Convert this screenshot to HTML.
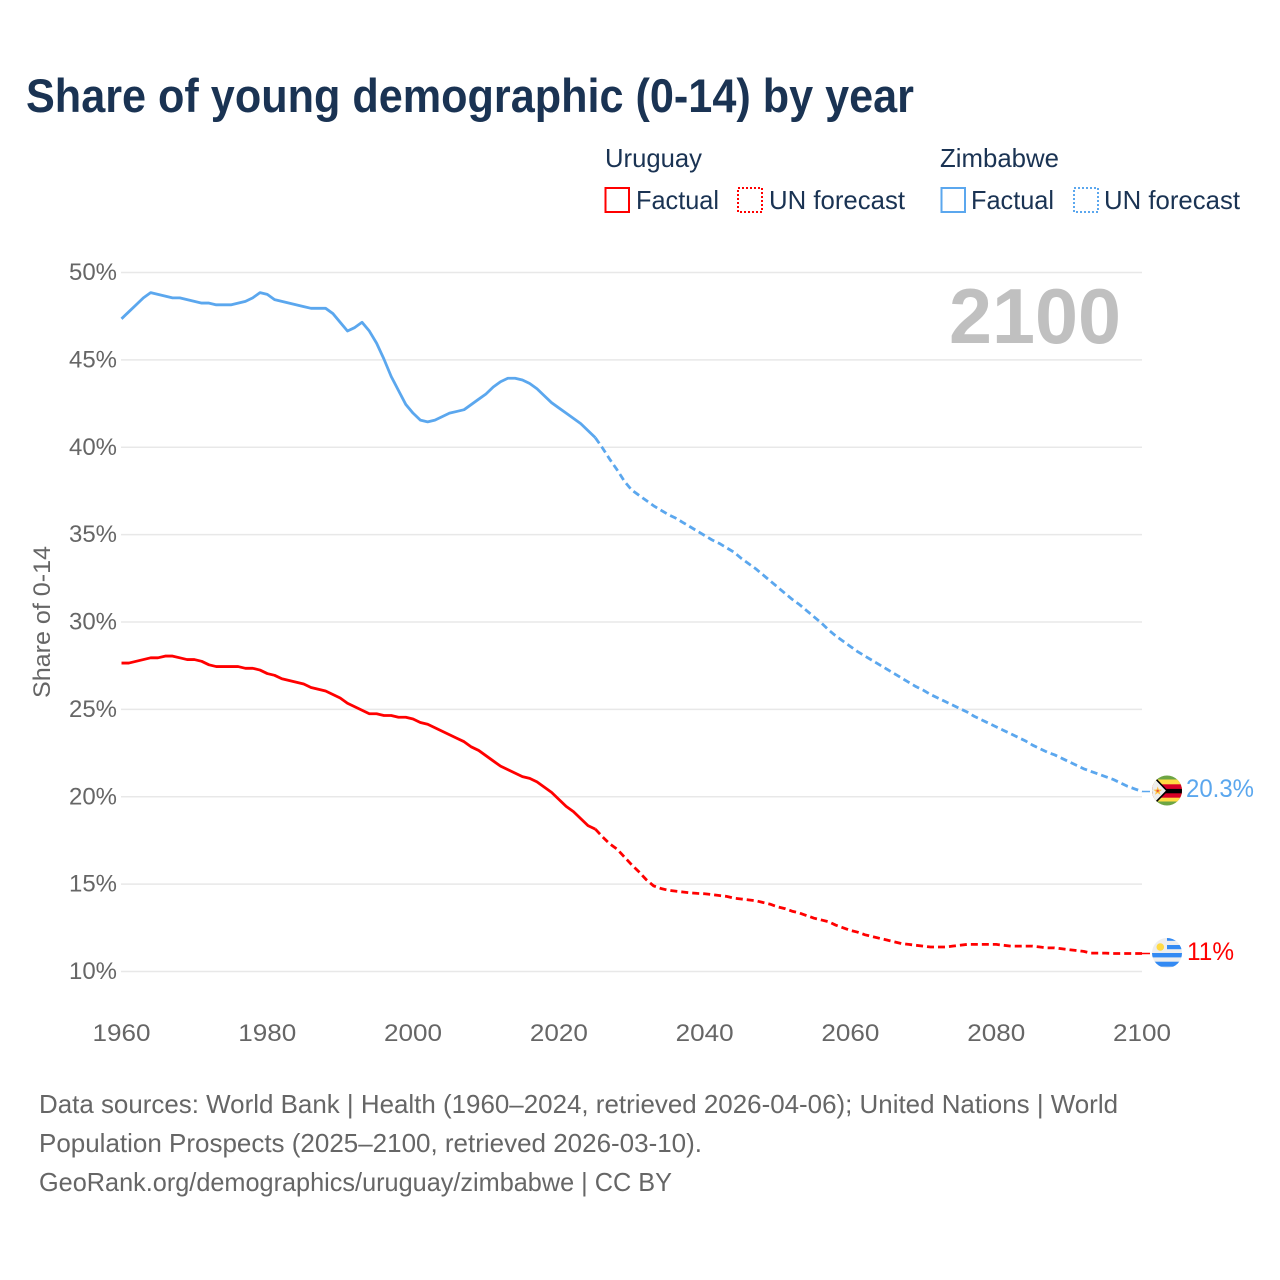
<!DOCTYPE html>
<html lang="en">
<head>
<meta charset="utf-8">
<title>Share of young demographic (0-14) by year</title>
<style>
html,body{margin:0;padding:0;background:#fff;width:1280px;height:1280px;overflow:hidden}
svg{display:block}
text{font-family:"Liberation Sans",sans-serif}
</style>
</head>
<body>
<svg id="chart" xmlns="http://www.w3.org/2000/svg" width="1280" height="1280" viewBox="0 0 1280 1280">
  <defs>
    <clipPath id="clip-zw"><circle cx="1167" cy="790.5" r="15"/></clipPath>
    <clipPath id="clip-uy"><circle cx="1167" cy="953" r="15"/></clipPath>
  </defs>
  <rect width="1280" height="1280" fill="#fff"/>
  <text x="26" y="112" font-size="47" font-weight="700" fill="#1a3353" textLength="888" lengthAdjust="spacingAndGlyphs">Share of young demographic (0-14) by year</text>

  <g font-size="26" fill="#1a3353">
    <text x="605" y="167" textLength="97" lengthAdjust="spacingAndGlyphs">Uruguay</text>
    <text x="940" y="167" textLength="119" lengthAdjust="spacingAndGlyphs">Zimbabwe</text>
    <rect x="605.5" y="188" width="23.5" height="24" fill="none" stroke="#ff0000" stroke-width="2"/>
    <text x="636" y="209" textLength="83" lengthAdjust="spacingAndGlyphs">Factual</text>
    <rect x="738" y="188" width="24" height="24" fill="none" stroke="#ff0000" stroke-width="2" stroke-dasharray="2 2"/>
    <text x="769" y="209" textLength="136" lengthAdjust="spacingAndGlyphs">UN forecast</text>
    <rect x="941.5" y="188" width="23.5" height="24" fill="none" stroke="#5ba7ee" stroke-width="2"/>
    <text x="971" y="209" textLength="83" lengthAdjust="spacingAndGlyphs">Factual</text>
    <rect x="1074" y="188" width="24" height="24" fill="none" stroke="#5ba7ee" stroke-width="2" stroke-dasharray="2 2"/>
    <text x="1104" y="209" textLength="136" lengthAdjust="spacingAndGlyphs">UN forecast</text>
  </g>

  <g id="grid"></g>
  <g id="yticks" font-size="24.5" fill="#666" text-anchor="end"></g>
  <g id="xticks" font-size="24.5" fill="#666" text-anchor="middle"></g>
  <text transform="translate(50,622) rotate(-90)" text-anchor="middle" font-size="24.5" fill="#666" textLength="152" lengthAdjust="spacingAndGlyphs">Share of 0-14</text>
  <text x="1121" y="343" text-anchor="end" font-size="78" font-weight="700" fill="#c0c0c0" textLength="172" lengthAdjust="spacingAndGlyphs">2100</text>

  <g id="series"></g>

  <g clip-path="url(#clip-zw)">
    <rect x="1152" y="775" width="30" height="31" fill="#6da544"/>
    <rect x="1152" y="779.5" width="30" height="22" fill="#ffda44"/>
    <rect x="1152" y="784.3" width="30" height="13.4" fill="#d80027"/>
    <rect x="1152" y="788.9" width="30" height="4.4" fill="#000"/>
    <path d="M1152 775 L1167 790.7 L1152 806 Z" fill="#eeeeee"/>
    <path d="M1152 775 L1167 790.7 L1152 806" fill="none" stroke="#000" stroke-width="1.6"/>
    <path d="M1157.7 786.5 L1158.8 789.5 L1162 789.7 L1159.5 791.7 L1160.4 794.8 L1157.7 793 L1155 794.8 L1155.9 791.7 L1153.4 789.7 L1156.6 789.5 Z" fill="#ffc040"/>
    <circle cx="1157.7" cy="790.8" r="1.2" fill="#e8503a"/>
  </g>
  <g clip-path="url(#clip-uy)">
    <rect x="1152" y="938" width="30" height="31" fill="#eeeeee"/>
    <rect x="1167" y="938" width="15" height="2.8" fill="#338af3"/>
    <rect x="1167" y="945" width="15" height="4.2" fill="#338af3"/>
    <rect x="1152" y="953" width="30" height="4.4" fill="#338af3"/>
    <rect x="1152" y="961.7" width="30" height="5" fill="#338af3"/>
    <circle cx="1160.3" cy="947" r="3.8" fill="#ffda44"/>
  </g>
  <text x="1186" y="797" font-size="25" fill="#5ba7ee" textLength="68" lengthAdjust="spacingAndGlyphs">20.3%</text>
  <text x="1187" y="960" font-size="25" fill="#ff0000" textLength="47" lengthAdjust="spacingAndGlyphs">11%</text>

  <g font-size="26" fill="#666">
    <text x="39" y="1113" textLength="1079" lengthAdjust="spacingAndGlyphs">Data sources: World Bank | Health (1960–2024, retrieved 2026-04-06); United Nations | World</text>
    <text x="39" y="1152" textLength="663" lengthAdjust="spacingAndGlyphs">Population Prospects (2025–2100, retrieved 2026-03-10).</text>
    <text x="39" y="1191" textLength="633" lengthAdjust="spacingAndGlyphs">GeoRank.org/demographics/uruguay/zimbabwe | CC BY</text>
  </g>
</svg>
<script>
const yTickValues = [10, 15, 20, 25, 30, 35, 40, 45, 50];
const xTickYears = [1960, 1980, 2000, 2020, 2040, 2060, 2080, 2100];
const factualStartYear = 1960;
const forecastStartYear = 2025;
const zimbabweFactual = [47.35,47.75,48.15,48.55,48.85,48.75,48.65,48.55,48.55,48.45,48.35,48.25,48.25,48.15,48.15,48.15,48.25,48.35,48.55,48.85,48.75,48.45,48.35,48.25,48.15,48.05,47.95,47.95,47.95,47.65,47.15,46.65,46.85,47.15,46.65,45.95,45.05,44.05,43.25,42.45,41.95,41.55,41.45,41.55,41.75,41.95,42.05,42.15,42.45,42.75,43.05,43.45,43.75,43.95,43.95,43.85,43.65,43.35,42.95,42.55,42.25,41.95,41.65,41.35,40.95,40.55];
const zimbabweForecast = [40.55,39.95,39.3,38.7,38.05,37.55,37.25,36.95,36.65,36.4,36.15,35.95,35.7,35.45,35.2,34.95,34.7,34.5,34.25,34.0,33.65,33.35,33.05,32.7,32.35,32.0,31.65,31.3,31.0,30.65,30.3,29.95,29.55,29.2,28.9,28.6,28.3,28.05,27.8,27.55,27.3,27.05,26.8,26.55,26.3,26.1,25.85,25.65,25.45,25.25,25.05,24.85,24.6,24.4,24.2,24.0,23.8,23.6,23.4,23.2,22.95,22.75,22.55,22.4,22.2,22.0,21.8,21.6,21.45,21.3,21.15,21.0,20.8,20.6,20.45,20.3];
const uruguayFactual = [27.65,27.65,27.75,27.85,27.95,27.95,28.05,28.05,27.95,27.85,27.85,27.75,27.55,27.45,27.45,27.45,27.45,27.35,27.35,27.25,27.05,26.95,26.75,26.65,26.55,26.45,26.25,26.15,26.05,25.85,25.65,25.35,25.15,24.95,24.75,24.75,24.65,24.65,24.55,24.55,24.45,24.25,24.15,23.95,23.75,23.55,23.35,23.15,22.85,22.65,22.35,22.05,21.75,21.55,21.35,21.15,21.05,20.85,20.55,20.25,19.85,19.45,19.15,18.75,18.35,18.15];
const uruguayForecast = [18.15,17.7,17.3,17.0,16.55,16.1,15.7,15.25,14.9,14.75,14.65,14.6,14.55,14.5,14.47,14.45,14.4,14.35,14.3,14.2,14.15,14.1,14.05,13.95,13.85,13.7,13.6,13.45,13.35,13.2,13.05,12.95,12.85,12.65,12.5,12.35,12.25,12.1,12.0,11.9,11.8,11.7,11.6,11.55,11.5,11.45,11.4,11.4,11.4,11.45,11.5,11.55,11.55,11.55,11.55,11.55,11.5,11.45,11.45,11.45,11.45,11.4,11.35,11.35,11.3,11.25,11.2,11.15,11.05,11.05,11.05,11.03,11.03,11.03,11.03,11.03];

const NS = 'http://www.w3.org/2000/svg';
const xOf = function (year) { return 121.5 + (year - 1960) * (1142 - 121.5) / 140; };
const yOf = function (value) { return 971.5 - (value - 10) * (971.5 - 272.5) / 40; };

const grid = document.getElementById('grid');
const yticks = document.getElementById('yticks');
const xticks = document.getElementById('xticks');
const series = document.getElementById('series');

yTickValues.forEach(function (v) {
  const line = document.createElementNS(NS, 'line');
  line.setAttribute('x1', 121);
  line.setAttribute('x2', 1142);
  line.setAttribute('y1', yOf(v));
  line.setAttribute('y2', yOf(v));
  line.setAttribute('stroke', '#e8e8e8');
  line.setAttribute('stroke-width', '1.5');
  
  
  grid.appendChild(line);
  const label = document.createElementNS(NS, 'text');
  label.setAttribute('x', 117);
  label.setAttribute('y', yOf(v) + 7.5);
  label.setAttribute('textLength', 48);
  label.setAttribute('lengthAdjust', 'spacingAndGlyphs');
  
  
  label.textContent = v + '%';
  yticks.appendChild(label);
});

xTickYears.forEach(function (year) {
  const label = document.createElementNS(NS, 'text');
  label.setAttribute('x', xOf(year));
  label.setAttribute('y', 1041);
  label.setAttribute('textLength', 58);
  label.setAttribute('lengthAdjust', 'spacingAndGlyphs');
  
  
  label.textContent = year;
  xticks.appendChild(label);
});

function pathFor(values, startYear) {
  return values.map(function (v, i) {
    return (i ? 'L' : 'M') + xOf(startYear + i).toFixed(2) + ' ' + yOf(v).toFixed(2);
  }).join(' ');
}

function drawLine(values, startYear, color, dashed, name) {
  const path = document.createElementNS(NS, 'path');
  path.setAttribute('d', pathFor(values, startYear));
  path.setAttribute('fill', 'none');
  path.setAttribute('stroke', color);
  path.setAttribute('stroke-width', '2.8');
  path.setAttribute('stroke-linejoin', 'round');
  if (dashed) path.setAttribute('stroke-dasharray', '7 4');
  
  
  series.appendChild(path);
}

function drawConnector(lastValue, color, name) {
  const line = document.createElementNS(NS, 'line');
  line.setAttribute('x1', xOf(2100));
  line.setAttribute('x2', 1150);
  line.setAttribute('y1', yOf(lastValue));
  line.setAttribute('y2', yOf(lastValue));
  line.setAttribute('stroke', color);
  line.setAttribute('stroke-width', '1.5');
  
  
  series.appendChild(line);
}

drawLine(zimbabweFactual, factualStartYear, '#5ba7ee', false, 'line-zimbabwe-factual');
drawLine(zimbabweForecast, forecastStartYear, '#5ba7ee', true, 'line-zimbabwe-forecast');
drawLine(uruguayFactual, factualStartYear, '#ff0000', false, 'line-uruguay-factual');
drawLine(uruguayForecast, forecastStartYear, '#ff0000', true, 'line-uruguay-forecast');
drawConnector(zimbabweForecast[zimbabweForecast.length - 1], '#5ba7ee', 'connector-zimbabwe');
drawConnector(uruguayForecast[uruguayForecast.length - 1], '#ff0000', 'connector-uruguay');
</script>
</body>
</html>
